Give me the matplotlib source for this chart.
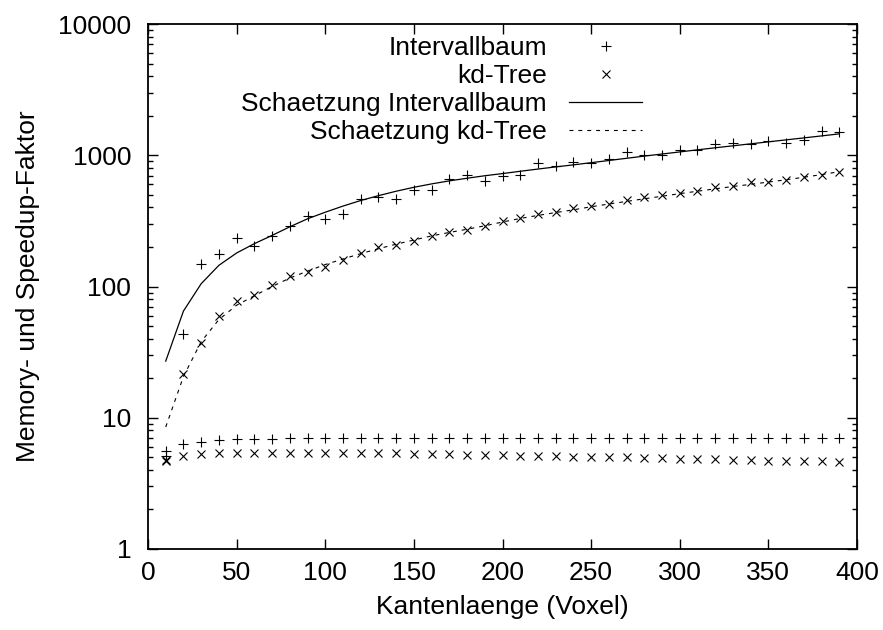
import matplotlib
matplotlib.use("Agg")
import matplotlib.pyplot as plt
from matplotlib.ticker import LogLocator, NullFormatter, FixedLocator

plt.rcParams['font.family'] = ['Liberation Sans', 'DejaVu Sans']
plt.rcParams['font.size'] = 19

# ==========================
# DATA
# ==========================
kantenlaenge = list(range(10, 400, 10))

interval_speedup = [5.1, 43.5, 148, 177, 234, 202, 241, 287, 342, 329,
                    357, 465, 478, 467, 547, 541, 664, 712, 633, 700,
                    703, 875, 834, 885, 875, 938, 1061, 1000, 1012, 1106,
                    1106, 1222, 1245, 1222, 1295, 1245, 1318, 1525, 1510]
kd_speedup = [4.7, 21.6, 37, 60, 78, 86, 102, 121, 130, 142,
              160, 180, 199, 208, 223, 241, 258, 271, 291, 313,
              333, 357, 370, 397, 413, 426, 459, 478, 495, 516,
              538, 570, 580, 622, 626, 653, 684, 712, 747]

interval_memory = [5.6, 6.3, 6.56, 6.76, 6.84, 6.9, 6.93, 6.95, 6.96, 6.96,
                   6.97, 6.97, 6.97, 6.98, 6.98, 6.98, 6.98, 6.98, 6.98, 6.98,
                   6.99, 6.99, 6.99, 6.99, 7.0, 7.0, 7.0, 7.0, 7.0, 7.0,
                   7.0, 7.0, 7.0, 7.0, 7.0, 7.0, 7.0, 7.0, 7.0]
kd_memory = [4.75, 5.13, 5.28, 5.35, 5.41, 5.41, 5.42, 5.43, 5.43, 5.43,
             5.41, 5.40, 5.38, 5.35, 5.33, 5.30, 5.27, 5.24, 5.20, 5.17,
             5.14, 5.11, 5.08, 5.06, 5.04, 5.01, 4.98, 4.95, 4.90, 4.88,
             4.84, 4.81, 4.79, 4.75, 4.72, 4.70, 4.67, 4.65, 4.61]

schaetzung_interval = [27, 65, 105, 145, 180, 212, 245, 285, 328, 368,
                       410, 452, 492, 532, 570, 605, 638, 668, 698, 725,
                       755, 785, 815, 845, 878, 912, 948, 985, 1022, 1060,
                       1100, 1140, 1180, 1222, 1265, 1310, 1356, 1404, 1455]
schaetzung_kd = [8.5, 20.6, 38, 56, 72, 85, 100, 116, 131, 147,
                 162, 178, 194, 210, 226, 243, 258, 273, 290, 310,
                 330, 348, 366, 384, 405, 425, 445, 466, 487, 510,
                 532, 555, 578, 600, 625, 650, 680, 712, 750]

x_ticks = [0, 50, 100, 150, 200, 250, 300, 350, 400]
y_ticks = [1, 10, 100, 1000, 10000]

# ==========================
# PLOT
# ==========================
fig = plt.figure(figsize=(8.83, 6.30), dpi=100)
ax = fig.add_axes([148 / 883, 1 - 549 / 630, (857 - 148) / 883, (549 - 24) / 630])

mk = dict(ls='none', color='black', mew=0.8)
ax.plot(kantenlaenge, interval_speedup, marker='+', ms=7, label='Intervallbaum', **mk)
ax.plot(kantenlaenge, kd_speedup, marker='x', ms=5.5, label='kd-Tree', **mk)
ax.plot(kantenlaenge, schaetzung_interval, color='black', lw=0.9,
        label='Schaetzung Intervallbaum')
ax.plot(kantenlaenge, schaetzung_kd, color='black', lw=0.8, dashes=(3.5, 4.5),
        label='Schaetzung kd-Tree')
ax.plot(kantenlaenge, interval_memory, marker='+', ms=7, **mk)
ax.plot(kantenlaenge, kd_memory, marker='x', ms=5.5, **mk)

ax.set_yscale('log')
ax.set_xlim(0, 400)
ax.set_ylim(1, 10000)
ax.xaxis.set_major_locator(FixedLocator(x_ticks))
ax.yaxis.set_major_locator(FixedLocator(y_ticks))
ax.set_yticklabels([str(t) for t in y_ticks])
ax.yaxis.set_minor_locator(LogLocator(base=10, subs=range(2, 10)))
ax.yaxis.set_minor_formatter(NullFormatter())

ax.tick_params(which='both', direction='in', top=True, right=True, width=1.0)
ax.tick_params(which='major', length=7)
ax.tick_params(which='minor', length=3.5)
ax.tick_params(axis='x', which='major', pad=9)
ax.tick_params(axis='y', which='major', pad=12)
for s in ax.spines.values():
    s.set_linewidth(1.3)

ax.set_xlabel('Kantenlaenge (Voxel)', labelpad=7)
ax.set_ylabel('Memory- und Speedup-Faktor', labelpad=13)

ax.legend(loc='upper right', bbox_to_anchor=(642 / 883, 1 - 36 / 630),
          bbox_transform=fig.transFigure, frameon=False, markerfirst=False,
          borderpad=0, borderaxespad=0, handlelength=2.75, handletextpad=0.85,
          labelspacing=0.15)

fig.savefig('out.png', dpi=100)
